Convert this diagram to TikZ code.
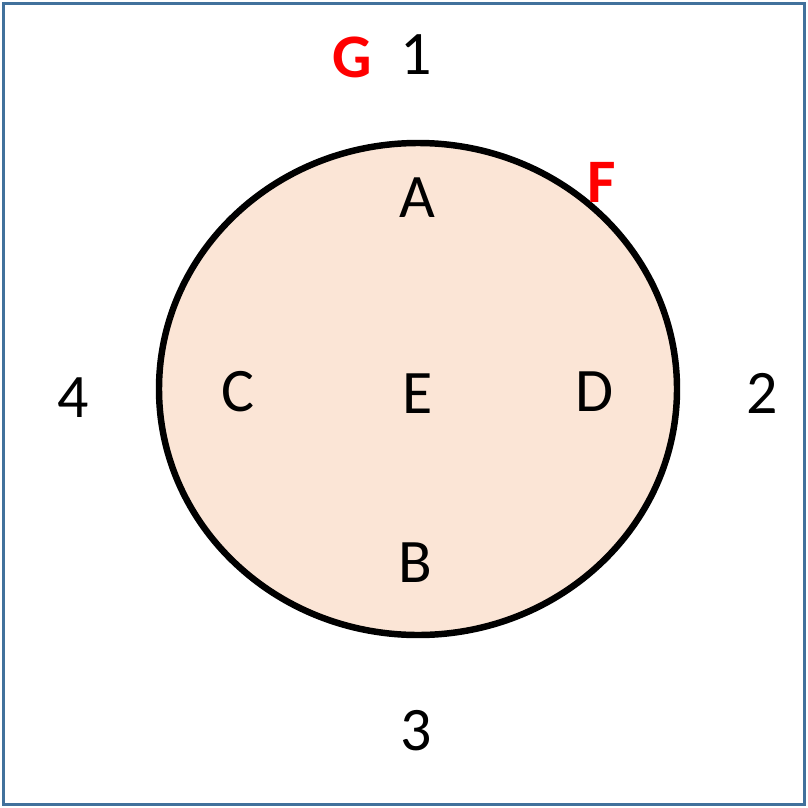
\documentclass[tikz,border=0pt]{standalone}
\usepackage{fontspec}
\setmainfont{Carlito}
\usepackage{xcolor}
\definecolor{Frame}{HTML}{41719C}
\definecolor{Peach}{HTML}{FBE5D6}
\definecolor{Mark}{HTML}{FF0000}
\tikzset{
  region/.style={font=\fontsize{44}{52}\selectfont,text=black,inner sep=0pt},
  point/.style={font=\fontsize{44}{52}\selectfont\bfseries,text=Mark,inner sep=0pt},
  outline/.style={draw=black,line width=4.6pt,fill=Peach}
}

\begin{document}
\begin{tikzpicture}[x=0.025cm,y=-0.025cm]
        \useasboundingbox (0,0) rectangle (808,808);
        \draw[draw=Frame,line width=2.4pt] (3.5,3.5) rectangle (804.5,804.5);
        \draw[outline] (418,389) ellipse [x radius=259,y radius=246];
        % letters inside
        \node[region] (a) at (417,198) {A};
        \node[region] (b) at (415,563) {B};
        \node[region] (c) at (238,392) {C};
        \node[region] (d) at (595,392) {D};
        \node[region] (e) at (418,394) {E};
        % numbers outside
        \node[region] (one) at (416,55) {1};
        \node[region] (two) at (762,393) {2};
        \node[region] (three) at (416,731) {3};
        \node[region] (four) at (73,398) {4};
        % red marks
        \node[point] (f) at (602,182) {F};
        \node[point] (g) at (352,57) {G};
      \end{tikzpicture}
\end{document}
